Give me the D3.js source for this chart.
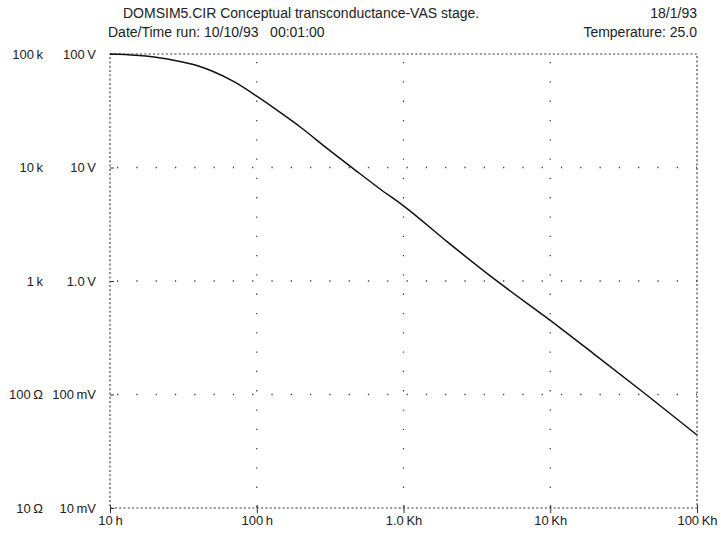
<html lang = "en">
  <head>
    <meta charset = "utf-8">
    <title>Transconductance-VAS stage</title>
    <script src="https://d3js.org/d3.v7.min.js"></script>
    <style>
      body { margin: 0; background: #fff; }
      text {
        font-family: "Liberation Sans", Arial, helvetica;
        font-size: 13px;
        fill: #222;
      }
      .head { font-size: 14px; }
      .frame { fill: none; stroke: #333; stroke-width: 1.1; stroke-dasharray: 2,2.3; }
      .grid { stroke: #444; stroke-width: 1.3; stroke-dasharray: 1.3,18; }
      .axis path { display: none; }
      .axis line { stroke: #333; }
      .curve { fill: none; stroke: #111; stroke-width: 1.5; }
    </style>
  </head>
  <body>
    <script type = "text/javascript">

    // frequency (h) and transimpedance (ohms)
    var freq = [10, 15, 20, 30, 40, 50, 70, 100, 150, 200, 300, 500, 700, 1000, 2000, 4000, 10000, 20000, 45000, 100000];
    var zOhm = [100000, 97500, 94000, 86000, 78500, 70500, 57000, 42500, 29500, 22500, 14800, 8900, 6400, 4600, 2200, 1080, 450, 226, 100, 44];

    var xTicks = [10, 100, 1000, 10000, 100000];
    var xTickLabels = ["10\u2009h", "100\u2009h", "1.0\u2009Kh", "10\u2009Kh", "100\u2009Kh"];
    var yTicks = [10, 100, 1000, 10000, 100000];
    var yOhmLabels = ["10\u2009\u03A9", "100\u2009\u03A9", "1\u2009k", "10\u2009k", "100\u2009k"];
    var yVoltLabels = ["10\u2009mV", "100\u2009mV", "1.0\u2009V", "10\u2009V", "100\u2009V"];

    var title = "DOMSIM5.CIR Conceptual transconductance-VAS stage.";
    var runLine = "Date/Time run: 10/10/93\u00A0\u00A0\u00A000:01:00";
    var dateLine = "18/1/93";
    var tempLine = "Temperature: 25.0";

    var W = 721, H = 533;
    var pLeft = 110, pRight = 697, pTop = 54, pBottom = 508;

    var data = freq.map(function(f, i) { return { f: f, z: zOhm[i] }; });

    var xScale = d3.scaleLog().domain([10, 100000]).range([pLeft, pRight]);
    var yScale = d3.scaleLog().domain([10, 100000]).range([pBottom, pTop]);

    var svg = d3.select("body")
      .append("svg")
      .attr("width", W)
      .attr("height", H);

    // inner grid (sparse dots)
    svg.selectAll(".vgrid")
      .data(xTicks.slice(1, -1))
      .enter()
      .append("line")
      .attr("class", "grid")
      .attr("x1", function(d) { return xScale(d); })
      .attr("x2", function(d) { return xScale(d); })
      .attr("y1", pTop + 8)
      .attr("y2", pBottom);

    svg.selectAll(".hgrid")
      .data(yTicks.slice(1, -1))
      .enter()
      .append("line")
      .attr("class", "grid")
      .attr("x1", pLeft + 7)
      .attr("x2", pRight)
      .attr("y1", function(d) { return yScale(d); })
      .attr("y2", function(d) { return yScale(d); });

    // dotted frame
    svg.append("rect")
      .attr("class", "frame")
      .attr("x", pLeft)
      .attr("y", pTop)
      .attr("width", pRight - pLeft)
      .attr("height", pBottom - pTop);

    // x axis
    var xAxis = d3.axisBottom(xScale)
      .tickValues(xTicks)
      .tickFormat(function(d, i) { return xTickLabels[i]; })
      .tickSizeInner(5)
      .tickPadding(3);

    var gx = svg.append("g")
      .attr("class", "axis")
      .attr("transform", "translate(0," + pBottom + ")")
      .call(xAxis);
    gx.selectAll(".tick line").attr("y1", -3);
    gx.selectAll("text").style("font-size", "13px").attr("fill", "#222");

    // y axis, volts column
    var yAxisV = d3.axisLeft(yScale)
      .tickValues(yTicks)
      .tickFormat(function(d, i) { return yVoltLabels[i]; })
      .tickSizeInner(6)
      .tickPadding(8);

    var gy = svg.append("g")
      .attr("class", "axis")
      .attr("transform", "translate(" + pLeft + ",0)")
      .call(yAxisV);
    gy.selectAll(".tick line").attr("x2", 4);
    gy.selectAll("text").style("font-size", "13px").attr("fill", "#222");

    // y axis, ohms column
    var yAxisR = d3.axisLeft(yScale)
      .tickValues(yTicks)
      .tickFormat(function(d, i) { return yOhmLabels[i]; })
      .tickSize(0)
      .tickPadding(67);

    var gr = svg.append("g")
      .attr("class", "axis")
      .attr("transform", "translate(" + pLeft + ",0)")
      .call(yAxisR);
    gr.selectAll("text").style("font-size", "13px").attr("fill", "#222");

    // curve
    var line = d3.line()
      .curve(d3.curveMonotoneX)
      .x(function(d) { return xScale(d.f); })
      .y(function(d) { return yScale(d.z); });

    svg.append("path")
      .datum(data)
      .attr("class", "curve")
      .attr("d", line);

    // header texts
    svg.append("text").attr("class", "head").attr("x", 123).attr("y", 18).text(title);
    svg.append("text").attr("class", "head").attr("x", 108).attr("y", 37).text(runLine);
    svg.append("text").attr("class", "head").attr("x", pRight).attr("y", 18).style("text-anchor", "end").text(dateLine);
    svg.append("text").attr("class", "head").attr("x", pRight).attr("y", 37).style("text-anchor", "end").text(tempLine);

    </script>
  </body>
</html>
